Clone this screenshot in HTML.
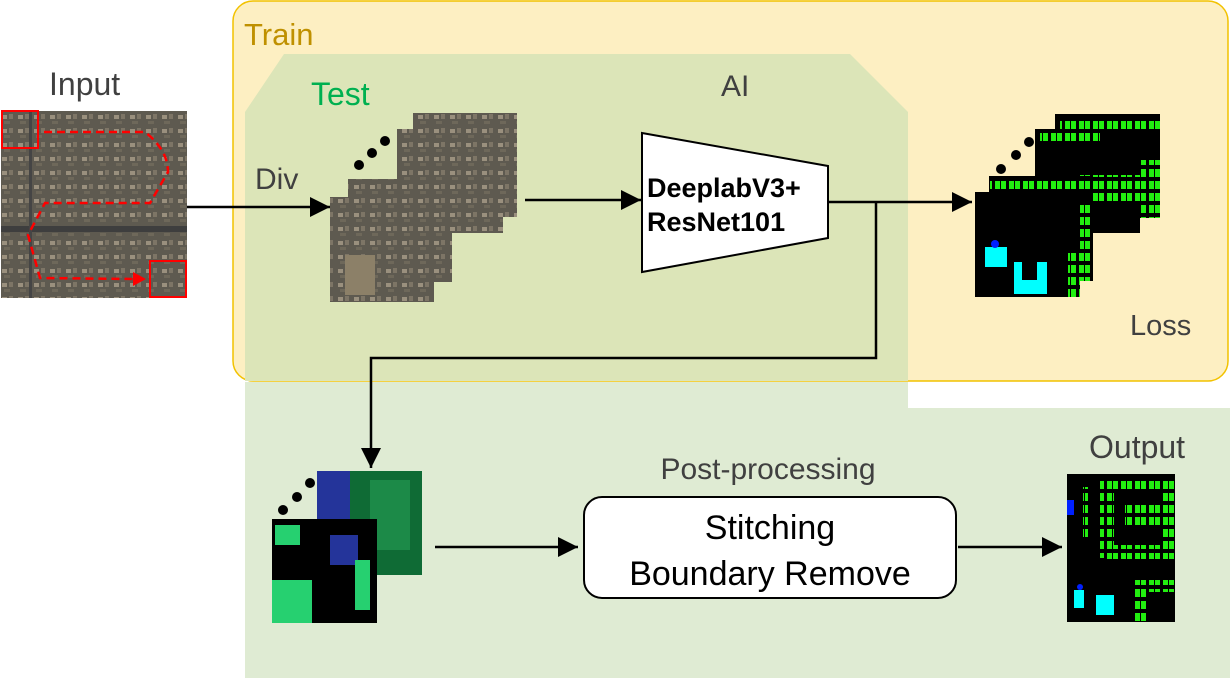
<!DOCTYPE html>
<html><head><meta charset="utf-8"><style>
html,body{margin:0;padding:0;background:#fff;}
svg{display:block;font-family:"Liberation Sans",sans-serif;}
</style></head><body>
<svg width="1230" height="678" viewBox="0 0 1230 678" xmlns="http://www.w3.org/2000/svg">
<defs>
<marker id="ab" markerWidth="22" markerHeight="20" refX="20" refY="10" orient="auto" markerUnits="userSpaceOnUse"><path d="M0,0 L20,10 L0,20 z" fill="#000"/></marker>
<pattern id="aer" width="16" height="14" patternUnits="userSpaceOnUse"><rect width="16" height="14" fill="#5e5a50"/><rect x="2" y="3" width="5" height="4" fill="#9a907e"/><rect x="9" y="2" width="4" height="5" fill="#7d7566"/><rect x="4" y="9" width="6" height="3" fill="#6e685a"/></pattern>
<pattern id="grn" width="14" height="12" patternUnits="userSpaceOnUse"><rect width="14" height="12" fill="#000"/><rect x="1" y="1" width="5" height="8" fill="#22ee10"/><rect x="7" y="1" width="5" height="8" fill="#22ee10"/></pattern>
</defs>
<rect x="233" y="1" width="995" height="380" rx="20" fill="#fdefc2" stroke="#f2c200" stroke-width="1.5"/>
<rect x="245" y="382" width="985" height="296" fill="#dfebd3"/>
<rect x="908" y="382" width="322" height="26" fill="#fff"/>
<rect x="245" y="382" width="663" height="30" fill="#dfebd3"/>
<path d="M245,112 L284,54 L850,54 L908,112 L908,381 L245,381 z" fill="#dce5b8"/>
<text x="244" y="45" font-size="31" fill="#bf9000">Train</text>
<text x="311" y="105" font-size="32" fill="#00b050">Test</text>
<text x="721" y="96" font-size="30" fill="#404040">AI</text>
<text x="49" y="95" font-size="32" fill="#404040">Input</text>
<text x="255" y="189" font-size="30" fill="#404040">Div</text>
<text x="1130" y="335" font-size="29" fill="#404040">Loss</text>
<text x="1089" y="458" font-size="32" fill="#404040">Output</text>
<text x="768" y="479" font-size="30" fill="#404040" text-anchor="middle">Post-processing</text>

<rect x="1" y="111" width="186" height="187" fill="url(#aer)"/>
<rect x="1" y="226" width="186" height="6" fill="#3e3e3e"/>
<rect x="29" y="111" width="3" height="187" fill="#454545"/>
<rect x="2" y="111" width="36" height="37" fill="none" stroke="#f00" stroke-width="2"/>
<rect x="150" y="261" width="36" height="36" fill="none" stroke="#f00" stroke-width="2"/>
<path d="M44,132 L145,132 Q168,150 168,172 L150,203 L45,203 L28,235 L40,278 L135,279" fill="none" stroke="#f00" stroke-width="2.5" stroke-dasharray="8,5"/>
<path d="M133,272 L146,279 L133,286 z" fill="#f00"/>

<line x1="187" y1="207" x2="330" y2="207" stroke="#000" stroke-width="2.5" marker-end="url(#ab)"/>

<rect x="413" y="113" width="104" height="104" fill="url(#aer)"/>
<rect x="397" y="129" width="106" height="104" fill="url(#aer)"/>
<rect x="348" y="179" width="104" height="103" fill="url(#aer)"/>
<rect x="330" y="197" width="104" height="105" fill="url(#aer)"/>
<rect x="345" y="255" width="30" height="40" fill="#8c8068"/>
<circle cx="359" cy="165" r="5" fill="#000"/><circle cx="372" cy="153" r="5" fill="#000"/><circle cx="385" cy="141" r="5" fill="#000"/>

<line x1="525" y1="200" x2="641" y2="200" stroke="#000" stroke-width="2.5" marker-end="url(#ab)"/>
<path d="M642,133 L828,166 L828,238 L642,272 z" fill="#fff" stroke="#000" stroke-width="2"/>
<text x="647" y="197" font-size="27" font-weight="bold">DeeplabV3+</text>
<text x="647" y="231" font-size="27" font-weight="bold">ResNet101</text>
<line x1="828" y1="202" x2="972" y2="202" stroke="#000" stroke-width="2.5" marker-end="url(#ab)"/>
<polyline points="876,202 876,358 371,358 371,468" fill="none" stroke="#000" stroke-width="2.5" marker-end="url(#ab)"/>

<rect x="1055" y="114" width="105" height="104" fill="#000"/>
<rect x="1060" y="118" width="100" height="14" fill="url(#grn)"/>
<rect x="1120" y="160" width="40" height="58" fill="url(#grn)"/>
<rect x="1035" y="129" width="105" height="104" fill="#000"/>
<rect x="1040" y="130" width="60" height="14" fill="url(#grn)"/>
<rect x="1080" y="175" width="60" height="30" fill="url(#grn)"/>
<rect x="989" y="176" width="104" height="105" fill="#000"/>
<rect x="990" y="177" width="100" height="14" fill="url(#grn)"/>
<rect x="1075" y="205" width="15" height="76" fill="url(#grn)"/>
<rect x="975" y="192" width="105" height="105" fill="#000"/>
<rect x="985" y="247" width="22" height="20" fill="#00ffff"/>
<rect x="1014" y="262" width="33" height="32" fill="#00ffff"/>
<rect x="1022" y="262" width="15" height="18" fill="#000"/>
<circle cx="995" cy="244" r="4" fill="#0020ff"/>
<rect x="1068" y="250" width="12" height="47" fill="url(#grn)"/>
<circle cx="1001" cy="169" r="5" fill="#000"/><circle cx="1016" cy="155" r="5" fill="#000"/><circle cx="1029" cy="142" r="5" fill="#000"/>

<rect x="317" y="471" width="105" height="104" fill="#0f6b35"/>
<rect x="317" y="471" width="33" height="48" fill="#24349a"/>
<rect x="370" y="480" width="40" height="70" fill="#1c8a48"/>
<rect x="272" y="519" width="105" height="104" fill="#000"/>
<rect x="330" y="535" width="28" height="30" fill="#24349a"/>
<rect x="272" y="580" width="40" height="43" fill="#26d070"/>
<rect x="275" y="525" width="25" height="20" fill="#26d070"/>
<rect x="355" y="560" width="15" height="50" fill="#26d070"/>
<circle cx="283" cy="510" r="5" fill="#000"/><circle cx="297" cy="497" r="5" fill="#000"/><circle cx="310" cy="483" r="5" fill="#000"/>

<line x1="435" y1="547" x2="578" y2="547" stroke="#000" stroke-width="2.5" marker-end="url(#ab)"/>
<rect x="584" y="497" width="372" height="101" rx="18" fill="#fff" stroke="#000" stroke-width="2"/>
<text x="770" y="539" font-size="34" text-anchor="middle">Stitching</text>
<text x="770" y="585" font-size="34" text-anchor="middle">Boundary Remove</text>
<line x1="958" y1="547" x2="1062" y2="547" stroke="#000" stroke-width="2.5" marker-end="url(#ab)"/>

<rect x="1067" y="474" width="108" height="148" fill="#000"/>
<rect x="1100" y="478" width="75" height="15" fill="url(#grn)"/>
<rect x="1100" y="478" width="14" height="80" fill="url(#grn)"/>
<rect x="1105" y="545" width="70" height="14" fill="url(#grn)"/>
<rect x="1125" y="505" width="35" height="20" fill="url(#grn)"/>
<rect x="1160" y="478" width="15" height="80" fill="url(#grn)"/>
<rect x="1132" y="580" width="43" height="12" fill="url(#grn)"/>
<rect x="1132" y="580" width="14" height="42" fill="url(#grn)"/>
<rect x="1083" y="487" width="5" height="50" fill="url(#grn)"/>
<rect x="1074" y="590" width="10" height="18" fill="#00ffff"/>
<rect x="1096" y="595" width="18" height="20" fill="#00ffff"/>
<circle cx="1080" cy="587" r="3" fill="#0020ff"/>
<rect x="1067" y="500" width="7" height="15" fill="#0020ff"/>
</svg>
</body></html>
